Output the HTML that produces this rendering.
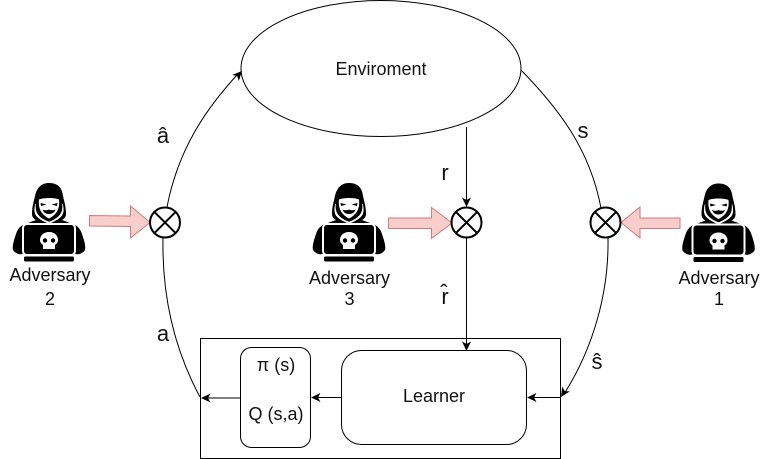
<!DOCTYPE html>
<html><head><meta charset="utf-8"><style>
html,body{margin:0;padding:0;background:#fff;width:770px;height:459px;overflow:hidden}
svg{display:block}
text{font-family:"Liberation Sans",sans-serif;fill:#111;text-anchor:middle}
.t{font-size:18px}.l{font-size:22px}
</style></head><body>
<svg width="770" height="459" viewBox="0 0 770 459" xmlns="http://www.w3.org/2000/svg">
<defs>
<g id="h">
<path d="M32 214C32 206 34 201 35 196C37 187 42 183 49 183C57 183 62 187 63 196C64 201 66 206 66 214C66 217 64 219 62 220L70 223C77 225 80 228 82 234C84 240 86 246 85 250C83 253 79 255 76 254L22 254C19 255 15 253 13 250C12 246 14 240 16 234C18 228 21 225 28 223L36 220C34 219 32 217 32 214Z" fill="#000"/>
<path d="M35.500 204C34 209 34.500 214 37 216.500C40 219.500 45 222 49 223.500C53 222 58 219.500 61 216.500C63.500 214 64 209 62.500 204C63 210 61.500 213.500 59 216C56 219 52 221 49 222C46 221 42 219 39 216C36.500 213.500 35 210 35.500 204Z" fill="#fff" stroke="#fff" stroke-width="0.500"/>
<path d="M39 199.500C43 197.500 55 197.500 59 199.500C60 208 57 214.500 49 218.500C41 214.500 38 208 39 199.500Z" fill="#fff"/>
<path d="M40.500 203L46.500 204.500L41 206ZM57.500 203L51.500 204.500L57 206ZM42.500 209.500Q46 211 49 209.500Q52 211 55.500 209.500Q54 214 49 214Q44 214 42.500 209.500Z" fill="#000"/>
<rect x="23" y="224" width="52" height="31" rx="4" fill="#000" stroke="#fff" stroke-width="2"/>
<rect x="24" y="256.500" width="50" height="5" rx="1.500" fill="#000"/>
<path d="M49 232C55 232 58 236 58 240C58 243 56 244 55 245L55 249L43 249L43 245C42 244 40 243 40 240C40 236 43 232 49 232Z" fill="#fff"/>
<circle cx="45" cy="240.500" r="2.200" fill="#000"/><circle cx="53" cy="240.500" r="2.200" fill="#000"/>
</g>
<path id="a" d="M0 0L-9.500 -4.500L-7 0L-9.500 4.500Z" fill="#000"/>
<g id="x"><circle r="15" fill="#fff" stroke="#000" stroke-width="2"/><path d="M-10.600 -10.600L10.600 10.600M-10.600 10.600L10.600 -10.600" stroke="#000" stroke-width="2"/></g>
</defs>
<ellipse cx="381" cy="68.500" rx="140" ry="68" fill="#fff" stroke="#000" stroke-width="1"/>
<rect x="200.500" y="338.500" width="360" height="120" fill="#fff" stroke="#000"/>
<rect x="240.500" y="347.500" width="70" height="100" rx="11" fill="#fff" stroke="#000"/>
<rect x="341.500" y="350.500" width="185" height="94" rx="20" fill="#fff" stroke="#000"/>
<g fill="none" stroke="#000" stroke-width="1">
<path d="M167 207C178 150 205 110 237 75"/>
<path d="M163 238C162 290 172 345 200 397"/>
<path d="M521 70C560 110 590 150 601 208"/>
<path d="M608 238C609 295 592 350 564 394"/>
<path d="M466.500 127V200M466.500 238V345"/>
<path d="M341 397.500H318M241 398H208M560.500 397.500H534"/>
</g>
<use href="#a" transform="translate(242,71) rotate(-47)"/>
<use href="#a" transform="translate(466.500,207) rotate(90)"/>
<use href="#a" transform="translate(466.500,351) rotate(90)"/>
<use href="#a" transform="translate(311,397.500) rotate(180)"/>
<use href="#a" transform="translate(201,398) rotate(180)"/>
<use href="#a" transform="translate(527,397.500) rotate(180)"/>
<use href="#a" transform="translate(561,397) rotate(122)"/>
<g fill="#f8cecc" stroke="#d27a76" stroke-width="1">
<path d="M89.500 215.500L130.500 216V206L150 222.500L130.500 238V226.500L89.500 226Z"/>
<path d="M388.500 218H431.500V207.500L452 223L431.500 238.500V228.500H388.500Z"/>
<path d="M680 218H640V207L621 222.500L640 238V228.500H680Z"/>
</g>
<use href="#x" x="165" y="222.500"/>
<use href="#x" x="466.500" y="222.500"/>
<use href="#x" x="605.500" y="222.500"/>
<use href="#h"/>
<use href="#h" x="300"/>
<use href="#h" x="669.500" y="0.500"/>
<text class="t" x="381" y="75">Enviroment</text>
<text class="t" x="434" y="402">Learner</text>
<text class="t" x="276" y="371">π (s)</text>
<text class="t" x="276" y="420">Q (s,a)</text>
<text class="t" x="50" y="281">Adversary</text><text class="t" x="50" y="305">2</text>
<text class="t" x="349.500" y="284">Adversary</text><text class="t" x="349.500" y="305">3</text>
<text class="t" x="719" y="284">Adversary</text><text class="t" x="719" y="305">1</text>
<text class="l" x="163" y="143">â</text>
<text class="l" x="445" y="180">r</text>
<text class="l" x="445" y="304">r̂</text>
<text class="l" x="583" y="138">s</text>
<text class="l" x="597" y="369">ŝ</text>
<text class="l" x="163" y="341">a</text>
</svg>
</body></html>
